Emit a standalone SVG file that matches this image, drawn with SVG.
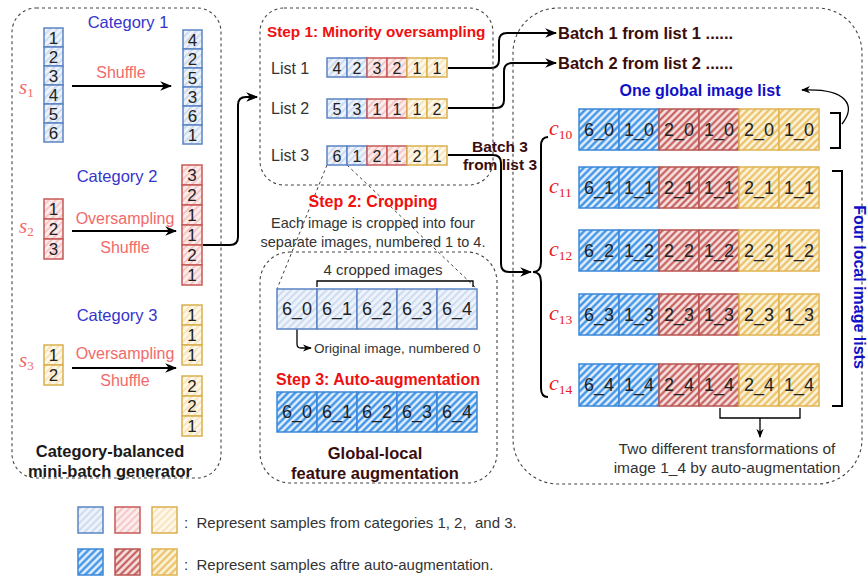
<svg xmlns="http://www.w3.org/2000/svg" width="868" height="579" viewBox="0 0 868 579">
<defs>
  <!-- light hatching: original samples -->
  <pattern id="hb1" patternUnits="userSpaceOnUse" width="5" height="5" patternTransform="rotate(45)">
    <rect width="5" height="5" fill="#eef3fb"/><line x1="1" y1="0" x2="1" y2="5" stroke="#b9cdea" stroke-width="1.2"/>
  </pattern>
  <pattern id="hr1" patternUnits="userSpaceOnUse" width="5" height="5" patternTransform="rotate(45)">
    <rect width="5" height="5" fill="#fcecec"/><line x1="1" y1="0" x2="1" y2="5" stroke="#f2aeae" stroke-width="1.2"/>
  </pattern>
  <pattern id="hy1" patternUnits="userSpaceOnUse" width="5" height="5" patternTransform="rotate(45)">
    <rect width="5" height="5" fill="#fff8ea"/><line x1="1" y1="0" x2="1" y2="5" stroke="#f3d9a0" stroke-width="1.2"/>
  </pattern>
  <!-- dense hatching: augmented samples -->
  <pattern id="hb2" patternUnits="userSpaceOnUse" width="5" height="5" patternTransform="rotate(45)">
    <rect width="5" height="5" fill="#e4effb"/><line x1="1.5" y1="0" x2="1.5" y2="5" stroke="#2f8be6" stroke-width="2.2"/>
  </pattern>
  <pattern id="hr2" patternUnits="userSpaceOnUse" width="5" height="5" patternTransform="rotate(45)">
    <rect width="5" height="5" fill="#f6e2e1"/><line x1="1.5" y1="0" x2="1.5" y2="5" stroke="#c0504d" stroke-width="2"/>
  </pattern>
  <pattern id="hy2" patternUnits="userSpaceOnUse" width="5" height="5" patternTransform="rotate(45)">
    <rect width="5" height="5" fill="#fcf3de"/><line x1="1.5" y1="0" x2="1.5" y2="5" stroke="#e8bb55" stroke-width="2"/>
  </pattern>
  <marker id="ah" viewBox="0 0 10 10" refX="9" refY="5" markerWidth="12" markerHeight="12" markerUnits="userSpaceOnUse" orient="auto">
    <path d="M0,1 L10,5 L0,9 L3,5 z" fill="#000"/>
  </marker>
  <marker id="ahs" viewBox="0 0 10 10" refX="9" refY="5" markerWidth="9" markerHeight="9" markerUnits="userSpaceOnUse" orient="auto">
    <path d="M0,1 L10,5 L0,9 L3,5 z" fill="#000"/>
  </marker>
  <style>
    text{font-family:"Liberation Sans",Arial,Helvetica,sans-serif;fill:#222;dominant-baseline:central}
    .dash{fill:none;stroke:#444;stroke-width:1.1;stroke-dasharray:3 3}
    .ddl{fill:none;stroke:#444;stroke-width:1;stroke-dasharray:3 3}
    .ln{fill:none;stroke:#000;stroke-width:2}
    .thin{fill:none;stroke:#000;stroke-width:1.3}
    .b1{fill:url(#hb1);stroke:#5b84c4;stroke-width:1.5}
    .r1{fill:url(#hr1);stroke:#c65a57;stroke-width:1.5}
    .y1{fill:url(#hy1);stroke:#d9b04e;stroke-width:1.5}
    .b2{fill:url(#hb2);stroke:#3a86d8;stroke-width:1.5}
    .r2{fill:url(#hr2);stroke:#b85450;stroke-width:1.5}
    .y2{fill:url(#hy2);stroke:#e0b452;stroke-width:1.5}
    .n17{font-size:17px;text-anchor:middle}
    .n16{font-size:16px;text-anchor:middle}
    .n18{font-size:18px;text-anchor:middle}
    .cat{font-size:16.5px;fill:#3535cc;text-anchor:middle}
    .op{font-size:16px;fill:#f26a6a;text-anchor:middle}
    .step{font-size:16px;font-weight:bold;fill:#f01010}
    .dk{font-weight:bold;fill:#3a0d0d}
    .bl{font-weight:bold;fill:#1010c8;font-size:16px}
    .note{fill:#333}
    text.math{font-family:"Liberation Serif","Times New Roman",serif;font-style:italic;dominant-baseline:auto}
    text.sl{fill:#f26a6a;font-size:21px}
    text.cl{fill:#e8201e;font-size:22px}
    .sub{font-style:normal}
  </style>
</defs>

<!-- connectors -->
<g id="connectors">
  <path class="ln" d="M72,86 H171" marker-end="url(#ah)"/>
  <path class="ln" d="M72,231 H176" marker-end="url(#ah)"/>
  <path class="ln" d="M72,368 H176" marker-end="url(#ah)"/>
  <path class="ln" d="M203,245 H230 Q238,245 238,237 V105 Q238,97 246,97 H257" marker-end="url(#ah)"/>
  <path class="ln" d="M448,68 H491 Q499,68 499,60 V41 Q499,33 507,33 H556" marker-end="url(#ah)"/>
  <path class="ln" d="M448,108 H496 Q504,108 504,100 V71 Q504,63 512,63 H556" marker-end="url(#ah)"/>
  <path class="ln" d="M448,155 H493 Q501,155 501,163 V264 Q501,272 509,272 H531" marker-end="url(#ah)"/>
  <!-- brace gathering the five crops -->
  <path class="ln" d="M548,137 Q541,137 541,146 V262 Q541,272 533,272 Q541,272 541,282 V388 Q541,397 548,397"/>
  <!-- crop guides -->
  <path class="ddl" d="M327,165 L277,289"/>
  <path class="ddl" d="M347,165 L477,289"/>
  <path class="thin" d="M317,287 V281 H473 V287"/>
  <path class="thin" d="M297,329 V344 Q297,348 301,348 H311" marker-end="url(#ahs)"/>
  <!-- list brackets -->
  <path class="ln" d="M830,113 H840 V148 H830"/>
  <path class="ln" d="M832,171 H842 V406 H832"/>
  <path class="thin" d="M842,124 C856,106 848,88 802,90" marker-end="url(#ahs)"/>
  <path class="thin" d="M720,408 V418 H800 V408 M760,418 V437" marker-end="url(#ahs)"/>
</g>

<!-- category-balanced mini-batch generator -->
<g id="generator">
  <rect class="dash" x="12" y="8" width="209" height="470" rx="24"/>
  <text class="cat" x="128" y="22">Category 1</text>
  <text class="op" x="121" y="72">Shuffle</text>
  <text class="math sl" x="19" y="94">s<tspan class="sub" font-size="13" dy="3">1</tspan></text>
  <g class="b1">
    <rect x="44" y="28" width="19" height="19"/><rect x="44" y="47" width="19" height="19"/><rect x="44" y="66" width="19" height="19"/>
    <rect x="44" y="85" width="19" height="19"/><rect x="44" y="104" width="19" height="19"/><rect x="44" y="123" width="19" height="19"/>
    <rect x="183" y="30" width="19" height="19"/><rect x="183" y="49" width="19" height="19"/><rect x="183" y="68" width="19" height="19"/>
    <rect x="183" y="87" width="19" height="19"/><rect x="183" y="106" width="19" height="19"/><rect x="183" y="125" width="19" height="19"/>
  </g>
  <g class="n17">
    <text x="53.5" y="38">1</text><text x="53.5" y="57">2</text><text x="53.5" y="76">3</text>
    <text x="53.5" y="95">4</text><text x="53.5" y="114">5</text><text x="53.5" y="133">6</text>
    <text x="192.5" y="40">4</text><text x="192.5" y="59">2</text><text x="192.5" y="78">5</text>
    <text x="192.5" y="97">3</text><text x="192.5" y="116">6</text><text x="192.5" y="135">1</text>
  </g>

  <text class="cat" x="117" y="176">Category 2</text>
  <text class="op" x="125" y="218">Oversampling</text>
  <text class="op" x="125" y="247">Shuffle</text>
  <text class="math sl" x="19" y="233">s<tspan class="sub" font-size="13" dy="3">2</tspan></text>
  <g class="r1">
    <rect x="44" y="199" width="19" height="20"/><rect x="44" y="219" width="19" height="20"/><rect x="44" y="239" width="19" height="20"/>
    <rect x="182" y="165" width="20" height="20"/><rect x="182" y="185" width="20" height="20"/><rect x="182" y="205" width="20" height="20"/>
    <rect x="182" y="225" width="20" height="20"/><rect x="182" y="245" width="20" height="20"/><rect x="182" y="265" width="20" height="20"/>
  </g>
  <g class="n17">
    <text x="53.5" y="209">1</text><text x="53.5" y="229">2</text><text x="53.5" y="249">3</text>
    <text x="192" y="175">3</text><text x="192" y="195">2</text><text x="192" y="215">1</text>
    <text x="192" y="235">1</text><text x="192" y="255">2</text><text x="192" y="275">1</text>
  </g>

  <text class="cat" x="117" y="315">Category 3</text>
  <text class="op" x="125" y="353">Oversampling</text>
  <text class="op" x="125" y="380">Shuffle</text>
  <text class="math sl" x="19" y="367">s<tspan class="sub" font-size="13" dy="3">3</tspan></text>
  <g class="y1">
    <rect x="44" y="345" width="19" height="20"/><rect x="44" y="365" width="19" height="20"/>
    <rect x="182" y="305" width="20" height="20"/><rect x="182" y="325" width="20" height="20"/><rect x="182" y="345" width="20" height="20"/>
    <rect x="182" y="376" width="20" height="20"/><rect x="182" y="396" width="20" height="20"/><rect x="182" y="416" width="20" height="20"/>
  </g>
  <g class="n17">
    <text x="53.5" y="355">1</text><text x="53.5" y="375">2</text>
    <text x="192" y="315">1</text><text x="192" y="335">1</text><text x="192" y="355">1</text>
    <text x="192" y="386">2</text><text x="192" y="406">2</text><text x="192" y="426">1</text>
  </g>
  <text x="110" y="451" style="font-size:16.5px;font-weight:bold;fill:#1a1a1a;text-anchor:middle">Category-balanced</text>
  <text x="110" y="471" style="font-size:16.5px;font-weight:bold;fill:#1a1a1a;text-anchor:middle">mini-batch generator</text>
</g>

<!-- step 1: minority oversampling -->
<g id="oversampling">
  <rect class="dash" x="260" y="8" width="233" height="177" rx="24"/>
  <text class="step" x="267" y="31" style="font-size:15.3px">Step 1: Minority oversampling</text>
  <text x="271" y="68" style="font-size:16px;fill:#333">List 1</text>
  <text x="271" y="108" style="font-size:16px;fill:#333">List 2</text>
  <text x="271" y="155" style="font-size:16px;fill:#333">List 3</text>
  <g class="b1">
    <rect x="327" y="58" width="20" height="19"/><rect x="347" y="58" width="20" height="19"/>
    <rect x="327" y="99" width="20" height="19"/><rect x="347" y="99" width="20" height="19"/>
    <rect x="327" y="146" width="20" height="19"/><rect x="347" y="146" width="20" height="19"/>
  </g>
  <g class="r1">
    <rect x="367" y="58" width="20" height="19"/><rect x="387" y="58" width="20" height="19"/>
    <rect x="367" y="99" width="20" height="19"/><rect x="387" y="99" width="20" height="19"/>
    <rect x="367" y="146" width="20" height="19"/><rect x="387" y="146" width="20" height="19"/>
  </g>
  <g class="y1">
    <rect x="407" y="58" width="20" height="19"/><rect x="427" y="58" width="20" height="19"/>
    <rect x="407" y="99" width="20" height="19"/><rect x="427" y="99" width="20" height="19"/>
    <rect x="407" y="146" width="20" height="19"/><rect x="427" y="146" width="20" height="19"/>
  </g>
  <g class="n16">
    <text x="337" y="68">4</text><text x="357" y="68">2</text><text x="377" y="68">3</text><text x="397" y="68">2</text><text x="417" y="68">1</text><text x="437" y="68">1</text>
    <text x="337" y="109">5</text><text x="357" y="109">3</text><text x="377" y="109">1</text><text x="397" y="109">1</text><text x="417" y="109">1</text><text x="437" y="109">2</text>
    <text x="337" y="156">6</text><text x="357" y="156">1</text><text x="377" y="156">2</text><text x="397" y="156">1</text><text x="417" y="156">2</text><text x="437" y="156">1</text>
  </g>
</g>

<!-- step 2: cropping -->
<g id="cropping">
  <text class="step" x="373" y="201" style="text-anchor:middle">Step 2: Cropping</text>
  <text class="note" x="373" y="223" style="font-size:14.5px;text-anchor:middle">Each image is cropped into four</text>
  <text class="note" x="373" y="242" style="font-size:14.5px;text-anchor:middle">separate images, numbered 1 to 4.</text>
</g>

<!-- step 3: global-local feature augmentation -->
<g id="augmentation">
  <rect class="dash" x="260" y="252" width="237" height="231" rx="30"/>
  <text class="note" x="383" y="269" style="font-size:15px;text-anchor:middle">4 cropped images</text>
  <g class="b1">
    <rect x="277" y="289" width="40" height="40"/><rect x="317" y="289" width="40" height="40"/><rect x="357" y="289" width="40" height="40"/>
    <rect x="397" y="289" width="40" height="40"/><rect x="437" y="289" width="40" height="40"/>
  </g>
  <g class="n18">
    <text x="297" y="309">6_0</text><text x="337" y="309">6_1</text><text x="377" y="309">6_2</text><text x="417" y="309">6_3</text><text x="457" y="309">6_4</text>
  </g>
  <text class="note" x="314" y="348" style="font-size:13.5px">Original image, numbered 0</text>
  <text class="step" x="378" y="379" style="text-anchor:middle">Step 3: Auto-augmentation</text>
  <g class="b2">
    <rect x="277" y="392" width="40" height="40"/><rect x="317" y="392" width="40" height="40"/><rect x="357" y="392" width="40" height="40"/>
    <rect x="397" y="392" width="40" height="40"/><rect x="437" y="392" width="40" height="40"/>
  </g>
  <g class="n18">
    <text x="297" y="412">6_0</text><text x="337" y="412">6_1</text><text x="377" y="412">6_2</text><text x="417" y="412">6_3</text><text x="457" y="412">6_4</text>
  </g>
  <text class="dk" x="375" y="453" style="font-size:16.5px;text-anchor:middle">Global-local</text>
  <text class="dk" x="375" y="473" style="font-size:16.5px;text-anchor:middle">feature augmentation</text>
</g>

<!-- batches and image lists -->
<g id="batches">
  <rect class="dash" x="513" y="8" width="349" height="476" rx="45"/>
  <text class="dk" x="558" y="33" style="font-size:16.5px">Batch 1 from list 1 ......</text>
  <text class="dk" x="558" y="63" style="font-size:16.5px">Batch 2 from list 2 ......</text>
  <text class="dk" x="500" y="146" style="font-size:15.5px;text-anchor:middle">Batch 3</text>
  <text class="dk" x="500" y="164" style="font-size:15.5px;text-anchor:middle">from list 3</text>
  <text class="bl" x="700" y="90" style="text-anchor:middle">One global image list</text>
  <text class="bl" transform="translate(859,287) rotate(90)" style="text-anchor:middle">Four local image lists</text>

  <text class="math cl" x="549" y="135">c<tspan class="sub" font-size="13.5" dy="4">10</tspan></text>
  <text class="math cl" x="549" y="193">c<tspan class="sub" font-size="13.5" dy="4">11</tspan></text>
  <text class="math cl" x="549" y="256">c<tspan class="sub" font-size="13.5" dy="4">12</tspan></text>
  <text class="math cl" x="549" y="320">c<tspan class="sub" font-size="13.5" dy="4">13</tspan></text>
  <text class="math cl" x="549" y="390">c<tspan class="sub" font-size="13.5" dy="4">14</tspan></text>

  <g class="b2">
    <rect x="579" y="109" width="40" height="41"/><rect x="619" y="109" width="40" height="41"/>
    <rect x="579" y="167" width="40" height="41"/><rect x="619" y="167" width="40" height="41"/>
    <rect x="579" y="230" width="40" height="41"/><rect x="619" y="230" width="40" height="41"/>
    <rect x="579" y="294" width="40" height="41"/><rect x="619" y="294" width="40" height="41"/>
    <rect x="579" y="364" width="40" height="42"/><rect x="619" y="364" width="40" height="42"/>
  </g>
  <g class="r2">
    <rect x="659" y="109" width="40" height="41"/><rect x="699" y="109" width="40" height="41"/>
    <rect x="659" y="167" width="40" height="41"/><rect x="699" y="167" width="40" height="41"/>
    <rect x="659" y="230" width="40" height="41"/><rect x="699" y="230" width="40" height="41"/>
    <rect x="659" y="294" width="40" height="41"/><rect x="699" y="294" width="40" height="41"/>
    <rect x="659" y="364" width="40" height="42"/><rect x="699" y="364" width="40" height="42"/>
  </g>
  <g class="y2">
    <rect x="739" y="109" width="40" height="41"/><rect x="779" y="109" width="40" height="41"/>
    <rect x="739" y="167" width="40" height="41"/><rect x="779" y="167" width="40" height="41"/>
    <rect x="739" y="230" width="40" height="41"/><rect x="779" y="230" width="40" height="41"/>
    <rect x="739" y="294" width="40" height="41"/><rect x="779" y="294" width="40" height="41"/>
    <rect x="739" y="364" width="40" height="42"/><rect x="779" y="364" width="40" height="42"/>
  </g>
  <g class="n18">
    <text x="599" y="130">6_0</text><text x="639" y="130">1_0</text><text x="679" y="130">2_0</text><text x="719" y="130">1_0</text><text x="759" y="130">2_0</text><text x="799" y="130">1_0</text>
    <text x="599" y="188">6_1</text><text x="639" y="188">1_1</text><text x="679" y="188">2_1</text><text x="719" y="188">1_1</text><text x="759" y="188">2_1</text><text x="799" y="188">1_1</text>
    <text x="599" y="251">6_2</text><text x="639" y="251">1_2</text><text x="679" y="251">2_2</text><text x="719" y="251">1_2</text><text x="759" y="251">2_2</text><text x="799" y="251">1_2</text>
    <text x="599" y="315">6_3</text><text x="639" y="315">1_3</text><text x="679" y="315">2_3</text><text x="719" y="315">1_3</text><text x="759" y="315">2_3</text><text x="799" y="315">1_3</text>
    <text x="599" y="385">6_4</text><text x="639" y="385">1_4</text><text x="679" y="385">2_4</text><text x="719" y="385">1_4</text><text x="759" y="385">2_4</text><text x="799" y="385">1_4</text>
  </g>
  <text class="note" x="727" y="448" style="font-size:15.5px;text-anchor:middle">Two different transformations of</text>
  <text class="note" x="727" y="467" style="font-size:15.5px;text-anchor:middle">image 1_4 by auto-augmentation</text>
</g>

<!-- legend -->
<g id="legend">
  <rect class="b1" x="78" y="507" width="25" height="26"/>
  <rect class="r1" x="115" y="507" width="25" height="26"/>
  <rect class="y1" x="152" y="507" width="25" height="26"/>
  <text class="note" x="184" y="522" style="font-size:15px" xml:space="preserve">:  Represent samples from categories 1, 2,  and 3.</text>
  <rect class="b2" x="78" y="549" width="25" height="26"/>
  <rect class="r2" x="115" y="549" width="25" height="26"/>
  <rect class="y2" x="152" y="549" width="25" height="26"/>
  <text class="note" x="184" y="564" style="font-size:15px" xml:space="preserve">:  Represent samples aftre auto-augmentation.</text>
</g>
</svg>
